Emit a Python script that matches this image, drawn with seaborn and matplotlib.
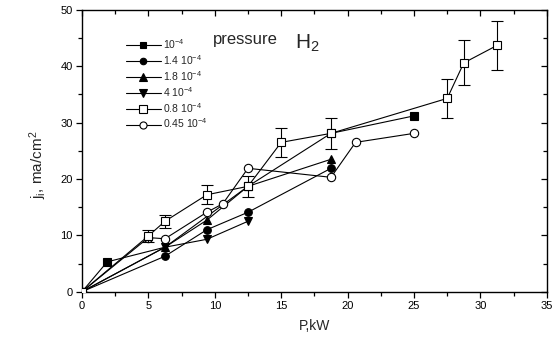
import numpy as np
import pandas as pd
import seaborn as sns
import matplotlib
matplotlib.use("Agg")
import matplotlib.pyplot as plt
from matplotlib.ticker import MultipleLocator
from matplotlib import font_manager

sns.set_theme(style="ticks")
plt.rcParams["font.family"] = ["Liberation Sans", "DejaVu Sans"]
plt.rcParams["mathtext.fontset"] = "custom"
plt.rcParams["mathtext.rm"] = "Liberation Sans"
plt.rcParams["mathtext.it"] = "Liberation Sans"

# Ion current density j_i (mA/cm^2) vs discharge power P (kW) at several H2 pressures
p_1e4_x = [0, 1.9, 6.25, 12.5, 18.75, 25.0]
p_1e4_y = [0, 5.3, 7.9, 18.7, 28.1, 31.2]

p_14_x = [0, 6.25, 9.4, 12.5, 18.75]
p_14_y = [0, 6.3, 11.0, 14.1, 21.9]

p_18_x = [0, 6.25, 9.4, 12.5, 18.75]
p_18_y = [0, 7.9, 12.7, 18.7, 23.5]

p_4_x = [0, 6.25, 9.4, 12.5]
p_4_y = [0, 7.9, 9.3, 12.5]

p_08_x = [0, 5.0, 6.25, 9.4, 12.5, 15.0, 18.75, 27.5, 28.75, 31.25]
p_08_y = [0, 9.9, 12.5, 17.2, 18.7, 26.5, 28.1, 34.3, 40.6, 43.7]
p_08_err = [0, 1.0, 1.2, 1.7, 1.9, 2.6, 2.8, 3.4, 4.0, 4.4]

p_045_x = [0, 5.0, 6.25, 9.4, 10.6, 12.5, 18.75, 20.6, 25.0]
p_045_y = [0, 9.6, 9.4, 14.1, 15.6, 21.9, 20.3, 26.5, 28.1]

labels = ["10$^{-4}$", "1.4 10$^{-4}$", "1.8 10$^{-4}$", "4 10$^{-4}$",
          "0.8 10$^{-4}$", "0.45 10$^{-4}$"]

narrow = "Liberation Sans Narrow"
installed = {f.name for f in font_manager.fontManager.ttflist}
legend_family = [narrow, "Liberation Sans"] if narrow in installed else ["Liberation Sans"]

fig = plt.figure(figsize=(5.54, 3.42), dpi=100)
ax = fig.add_axes([0.148, 0.147, 0.839, 0.824])

lw = 0.8
common = dict(ax=ax, sort=False, color="black", linewidth=lw, estimator=None,
              markeredgecolor="black", markeredgewidth=0.8)

sns.lineplot(x=p_1e4_x, y=p_1e4_y, marker="s", markersize=5.5,
             markerfacecolor="black", markevery=[0, 1, 3, 4, 5],
             label=labels[0], zorder=2, **common)
sns.lineplot(x=p_14_x, y=p_14_y, marker="o", markersize=5.5,
             markerfacecolor="black", label=labels[1], zorder=2, **common)
sns.lineplot(x=p_18_x, y=p_18_y, marker="^", markersize=6,
             markerfacecolor="black", label=labels[2], zorder=2, **common)
sns.lineplot(x=p_4_x, y=p_4_y, marker="v", markersize=6,
             markerfacecolor="black", label=labels[3], zorder=2, **common)
sns.lineplot(x=p_045_x, y=p_045_y, marker="o", markersize=6,
             markerfacecolor="white", label=labels[5], zorder=3, **common)

ax.errorbar(p_08_x, p_08_y, yerr=p_08_err, fmt="none", ecolor="black",
            elinewidth=0.8, capsize=4.3, capthick=0.8, zorder=3)
sns.lineplot(x=p_08_x, y=p_08_y, marker="s", markersize=6,
             markerfacecolor="white", label=labels[4], zorder=4, **common)

ax.set_xlim(0, 35)
ax.set_ylim(0, 50)
ax.xaxis.set_major_locator(MultipleLocator(5))
ax.xaxis.set_minor_locator(MultipleLocator(2.5))
ax.yaxis.set_major_locator(MultipleLocator(10))
ax.yaxis.set_minor_locator(MultipleLocator(5))

for s in ax.spines.values():
    s.set_visible(True)
    s.set_linewidth(1.0)
    s.set_color("black")

ax.tick_params(which="both", direction="out", bottom=True, left=True,
               top=False, right=False, color="black", width=0.9,
               labelsize=8, labelcolor="black", pad=2)
ax.tick_params(which="major", length=4.5)
ax.tick_params(which="minor", length=3)

# mirrored inward ticks on top and right
ax_t = ax.secondary_xaxis("top")
ax_t.xaxis.set_major_locator(MultipleLocator(5))
ax_t.xaxis.set_minor_locator(MultipleLocator(2.5))
ax_t.tick_params(which="both", direction="in", labeltop=False, color="black", width=0.9)
ax_t.tick_params(which="major", length=4.5)
ax_t.tick_params(which="minor", length=3)
ax_t.spines["top"].set_visible(False)
ax_r = ax.secondary_yaxis("right")
ax_r.yaxis.set_major_locator(MultipleLocator(10))
ax_r.yaxis.set_minor_locator(MultipleLocator(5))
ax_r.tick_params(which="both", direction="in", labelright=False, color="black", width=0.9)
ax_r.tick_params(which="major", length=4.5)
ax_r.tick_params(which="minor", length=3)
ax_r.spines["right"].set_visible(False)

ax.set_xlabel("P,kW", fontsize=10, labelpad=6)
ax.set_ylabel("j$_i$, ma/cm$^2$", fontsize=11)
ax.yaxis.set_label_coords(-0.07, 0.45)

ax.text(0.282, 0.895, "pressure", transform=ax.transAxes, fontsize=12,
        ha="left", va="center")
ax.text(0.458, 0.88, "H$_2$", transform=ax.transAxes, fontsize=15,
        ha="left", va="center")

handles, labs = ax.get_legend_handles_labels()
order = [labs.index(l) for l in labels]
leg = ax.legend([handles[i] for i in order], [labs[i] for i in order],
                loc="upper left", bbox_to_anchor=(0.095, 0.903),
                frameon=False, prop={"family": legend_family, "size": 7.5},
                handlelength=3.3, handletextpad=0.2, labelspacing=0.2,
                markerscale=0.85, borderaxespad=0, borderpad=0)

fig.savefig("out.png", dpi=100)
